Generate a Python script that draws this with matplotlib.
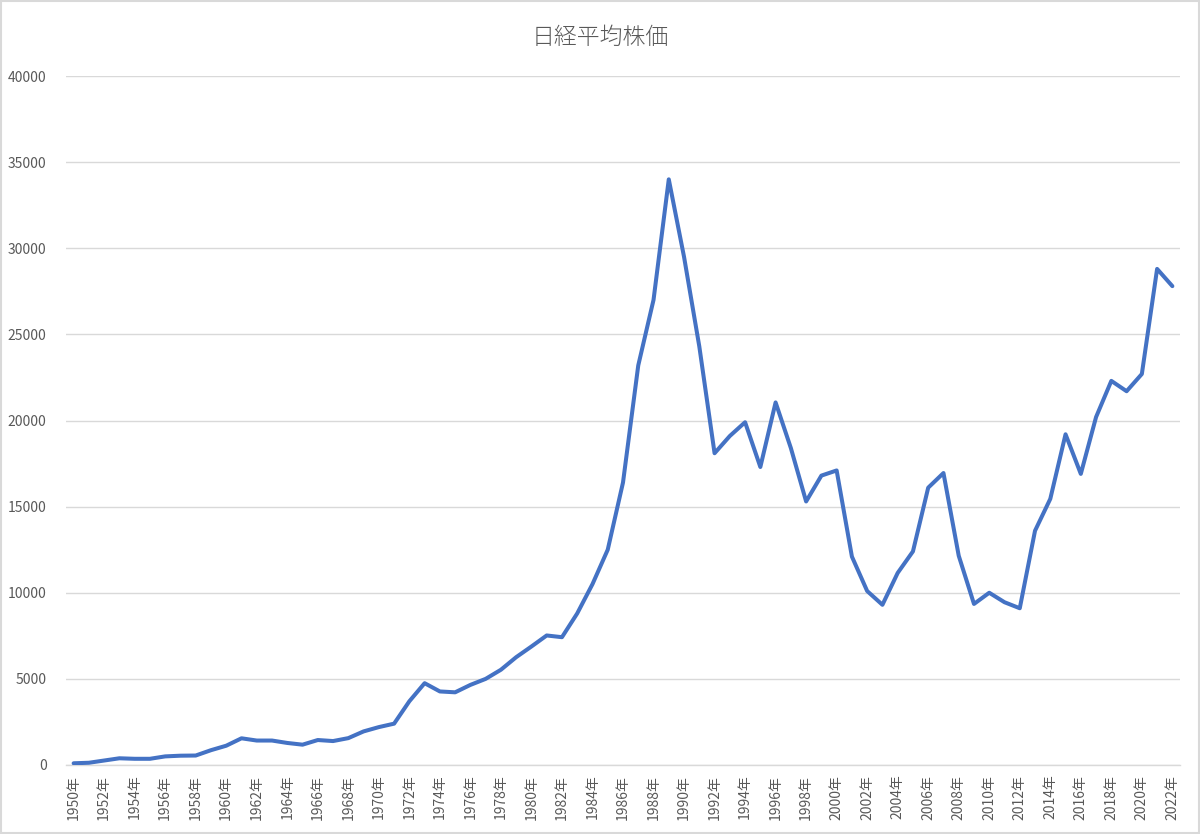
import matplotlib
matplotlib.use("Agg")
import matplotlib.pyplot as plt
from matplotlib.patches import Rectangle

plt.rcParams['font.family'] = ['Noto Sans CJK JP', 'DejaVu Sans']

years = list(range(1950, 2023))
values = [
    100, 130, 260, 390, 360, 360, 500, 540, 550, 860,
    1120, 1550, 1420, 1420, 1280, 1180, 1450, 1390, 1560, 1950,
    2200, 2400, 3700, 4750, 4270, 4220, 4650, 5000, 5530, 6260,
    6880, 7520, 7420, 8800, 10500, 12500, 16400, 23200, 27000, 34000,
    29500, 24300, 18100, 19100, 19900, 17300, 21050, 18400, 15300, 16800,
    17100, 12100, 10100, 9300, 11150, 12400, 16100, 16950, 12150, 9350,
    10000, 9450, 9100, 13600, 15450, 19200, 16900, 20200, 22300, 21700,
    22700, 28800, 27800,
]
tick_labels = [f"{y}年" for y in years]
title = "日経平均株価"

fig = plt.figure(figsize=(12, 8.34), dpi=100)
ax = fig.add_axes([0.055, 1 - 765 / 834, 1180 / 1200 - 0.055, (765 - 76) / 834])

x = list(range(len(years)))
ax.plot(x, values, color='#4472C4', linewidth=2.9, solid_joinstyle='round', solid_capstyle='round', zorder=3)

ax.set_xlim(-0.5, len(years) - 0.5)
ax.set_ylim(0, 40000)
ax.set_yticks(range(0, 40001, 5000))
ax.set_yticklabels([str(v) for v in range(0, 40001, 5000)])
ax.set_xticks(x[::2])
ax.set_xticklabels(tick_labels[::2], rotation=90)

ax.grid(axis='y', color='#D9D9D9', linewidth=1)
ax.set_axisbelow(True)
for s in ['left', 'right', 'top']:
    ax.spines[s].set_visible(False)
ax.spines['bottom'].set_color('#D9D9D9')
ax.spines['bottom'].set_linewidth(1)
ax.tick_params(axis='both', length=0, colors='#595959', labelsize=10)
ax.tick_params(axis='y', pad=14)
ax.tick_params(axis='x', pad=7)

fig.text(0.5, 1 - 37 / 834, title, ha='center', va='center', fontsize=16.5,
         color='#595959', fontweight='light')

fig.patches.append(Rectangle((0.0008, 0.001), 0.9984, 0.998, transform=fig.transFigure,
                             fill=False, edgecolor='#D9D9D9', linewidth=1.5))

fig.savefig('out.png', dpi=100)
